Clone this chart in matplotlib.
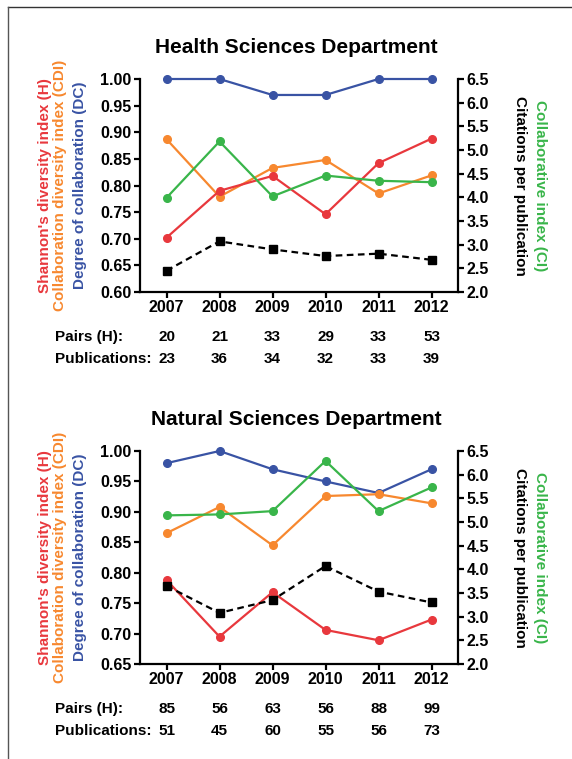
import matplotlib
matplotlib.use('Agg')
import matplotlib.pyplot as plt
import matplotlib.transforms as mtransforms
from matplotlib.lines import Line2D

plt.rcParams['font.family'] = ['Liberation Sans', 'DejaVu Sans']
plt.rcParams['font.weight'] = 'bold'

years = [2007, 2008, 2009, 2010, 2011, 2012]

# Health Sciences Department
health_h = [0.702, 0.790, 0.818, 0.746, 0.842, 0.888]
health_cdi = [0.887, 0.779, 0.833, 0.848, 0.785, 0.819]
health_dc = [1.00, 1.00, 0.970, 0.970, 1.00, 1.00]
health_ci = [3.99, 5.18, 4.02, 4.46, 4.35, 4.32]
health_cites = [2.45, 3.07, 2.90, 2.76, 2.81, 2.68]
health_pairs = [20, 21, 33, 29, 33, 53]
health_pubs = [23, 36, 34, 32, 33, 39]

# Natural Sciences Department
natural_h = [0.788, 0.695, 0.768, 0.706, 0.689, 0.723]
natural_cdi = [0.865, 0.908, 0.845, 0.926, 0.929, 0.914]
natural_dc = [0.980, 1.00, 0.970, 0.950, 0.931, 0.970]
natural_ci = [5.14, 5.16, 5.23, 6.29, 5.23, 5.73]
natural_cites = [3.65, 3.08, 3.35, 4.07, 3.53, 3.30]
natural_pairs = [85, 56, 63, 56, 88, 99]
natural_pubs = [51, 45, 60, 55, 56, 73]

RED = '#e8383d'
ORANGE = '#f7882f'
BLUE = '#3953a4'
GREEN = '#39b54a'


def panel(fig, rect, title, h, cdi, dc, ci, cites, pairs, pubs, ylim, yticks):
    ax = fig.add_axes(rect)
    ax2 = ax.twinx()
    kw = dict(marker='o', markersize=5.5, linewidth=1.6, clip_on=False)
    ax.plot(years, dc, color=BLUE, **kw)
    ax.plot(years, cdi, color=ORANGE, **kw)
    ax.plot(years, h, color=RED, **kw)
    ax2.plot(years, ci, color=GREEN, **kw)
    ax2.plot(years, cites, color='black', linestyle='--', marker='s',
             markersize=5.5, linewidth=1.6, dashes=(3, 2), clip_on=False)

    ax.set_xlim(2006.5, 2012.5)
    ax.set_ylim(*ylim)
    ax.set_yticks(yticks)
    ax.set_yticklabels(['%.2f' % v for v in yticks])
    ax2.set_ylim(2.0, 6.5)
    ax2.set_yticks([2.0, 2.5, 3.0, 3.5, 4.0, 4.5, 5.0, 5.5, 6.0, 6.5])
    ax2.set_yticklabels(['%.1f' % v for v in ax2.get_yticks()])
    ax.set_xticks(years)

    for a in (ax, ax2):
        a.spines['top'].set_visible(False)
        for s in a.spines.values():
            s.set_linewidth(1.6)
        a.tick_params(width=1.6, length=4, labelsize=11.5, pad=2)
    ax.spines['right'].set_visible(False)
    ax2.spines['left'].set_visible(False)
    ax2.spines['bottom'].set_visible(False)

    ax.text(0.49, 1.15, title, transform=ax.transAxes, ha='center',
            va='center', fontsize=15)

    # stacked axis titles
    ax.text(-0.299, 0.5, "Shannon's diversity index (H)", color=RED,
            rotation=90, transform=ax.transAxes, ha='center', va='center',
            fontsize=11)
    ax.text(-0.252, 0.5, 'Collaboration diversity index (CDI)', color=ORANGE,
            rotation=90, transform=ax.transAxes, ha='center', va='center',
            fontsize=11)
    ax.text(-0.189, 0.5, 'Degree of collaboration (DC)', color=BLUE,
            rotation=90, transform=ax.transAxes, ha='center', va='center',
            fontsize=11)
    ax2.text(1.195, 0.5, 'Citations per publication', color='black',
             rotation=270, transform=ax2.transAxes, ha='center', va='center',
             fontsize=11)
    ax2.text(1.258, 0.5, 'Collaborative index (CI)', color=GREEN,
             rotation=270, transform=ax2.transAxes, ha='center', va='center',
             fontsize=11)

    # counts under the years
    xt = ax.get_xaxis_transform()
    ft = mtransforms.blended_transform_factory(fig.transFigure, ax.transAxes)
    ax.text(55 / 572, -0.21, 'Pairs (H):', transform=ft, ha='left',
            va='center', fontsize=11)
    ax.text(55 / 572, -0.315, 'Publications:', transform=ft, ha='left',
            va='center', fontsize=11)
    for x, p, n in zip(years, pairs, pubs):
        ax.text(x, -0.21, str(p), transform=xt, ha='center', va='center',
                fontsize=11)
        ax.text(x, -0.315, str(n), transform=xt, ha='center', va='center',
                fontsize=11)
    return ax


fig = plt.figure(figsize=(5.72, 7.59), dpi=100)

panel(fig, [140 / 572, 1 - 292 / 759, 318 / 572, 213 / 759],
      'Health Sciences Department', health_h, health_cdi, health_dc,
      health_ci, health_cites, health_pairs, health_pubs,
      (0.60, 1.00), [0.60, 0.65, 0.70, 0.75, 0.80, 0.85, 0.90, 0.95, 1.00])

panel(fig, [140 / 572, 1 - 664 / 759, 318 / 572, 213 / 759],
      'Natural Sciences Department', natural_h, natural_cdi, natural_dc,
      natural_ci, natural_cites, natural_pairs, natural_pubs,
      (0.65, 1.00), [0.65, 0.70, 0.75, 0.80, 0.85, 0.90, 0.95, 1.00])

# page frame
fig.add_artist(Line2D([8 / 572, 1], [1 - 7 / 759, 1 - 7 / 759],
                      transform=fig.transFigure, color='#333333', linewidth=1))
fig.add_artist(Line2D([8 / 572, 8 / 572], [0, 1 - 7 / 759],
                      transform=fig.transFigure, color='#555555', linewidth=1))

fig.savefig('out.png', dpi=100)
